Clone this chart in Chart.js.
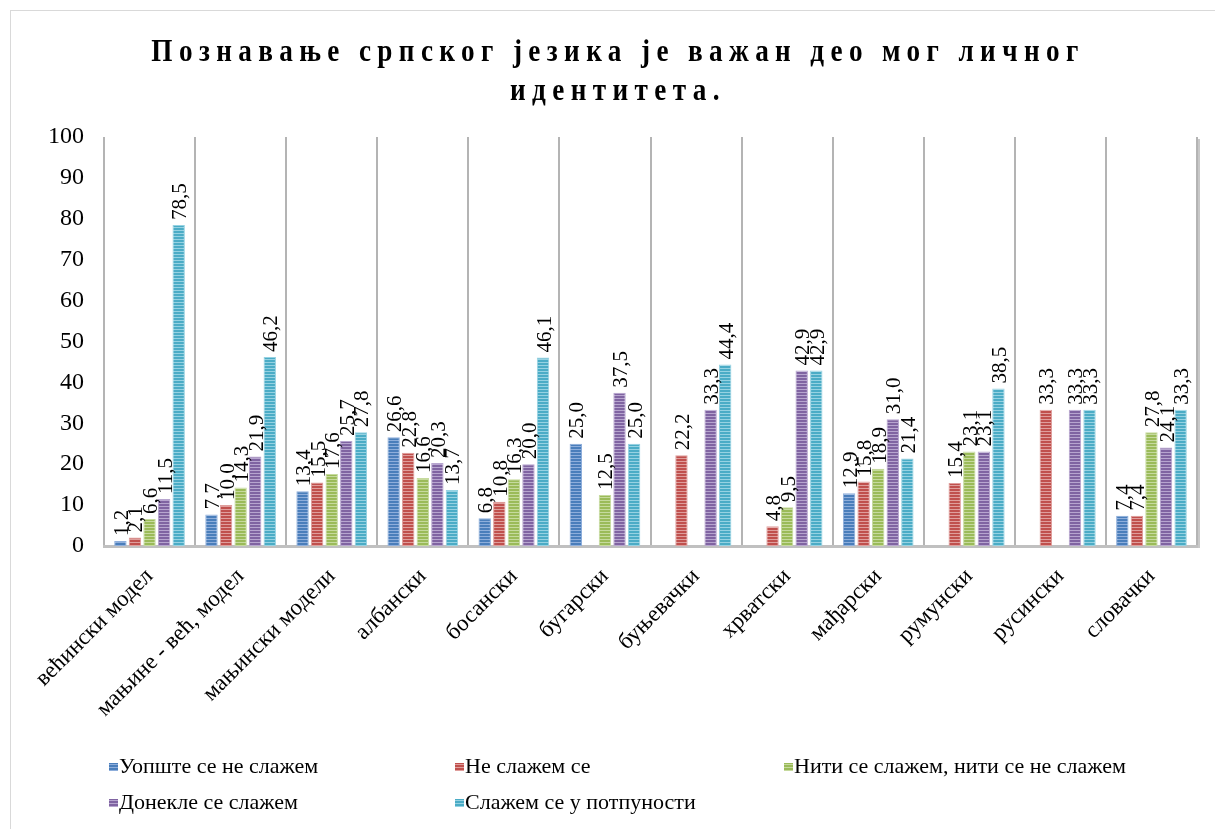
<!DOCTYPE html>
<html>
<head>
<meta charset="utf-8">
<script src="https://cdn.jsdelivr.net/npm/chart.js@4.4.1/dist/chart.umd.min.js"></script>
<style>
  html, body { margin: 0; padding: 0; background: #ffffff; }
  #wrap { width: 1215px; height: 829px; position: relative; }
</style>
</head>
<body>
<div id="wrap"><canvas id="chart" width="1215" height="829"></canvas></div>
<script>
// Survey answers (percent) by group
const titleLines = ['Познавање српског језика је важан део мог личног', 'идентитета.'];
const categories = ['већински модел', 'мањине - већ, модел', 'мањински модели', 'албански', 'босански',
  'бугарски', 'буњевачки', 'хрватски', 'мађарски', 'румунски', 'русински', 'словачки'];
const seriesNames = ['Уопште се не слажем', 'Не слажем се', 'Нити се слажем, нити се не слажем',
  'Донекле се слажем', 'Слажем се у потпуности'];
const uopsteNe = [1.2, 7.7, 13.4, 26.6, 6.8, 25.0, null, null, 12.9, null, null, 7.4];
const neSlazem = [2.1, 10.0, 15.5, 22.8, 10.8, null, 22.2, 4.8, 15.8, 15.4, 33.3, 7.4];
const nitiNiti = [6.6, 14.3, 17.6, 16.6, 16.3, 12.5, null, 9.5, 18.9, 23.1, null, 27.8];
const donekle = [11.5, 21.9, 25.7, 20.3, 20.0, 37.5, 33.3, 42.9, 31.0, 23.1, 33.3, 24.1];
const potpuno = [78.5, 46.2, 27.8, 13.7, 46.1, 25.0, 44.4, 42.9, 21.4, 38.5, 33.3, 33.3];
const yTicks = [0, 10, 20, 30, 40, 50, 60, 70, 80, 90, 100];

const seriesValues = [uopsteNe, neSlazem, nitiNiti, donekle, potpuno];
const baseColors = ['#4a7ebb', '#c0504d', '#9bbb59', '#8064a2', '#4bacc6'];
const lightColors = ['#8eaedb', '#df9e9c', '#c6da9e', '#b7a5cf', '#96d2e2'];

const SERIF = '"Liberation Serif", "Times New Roman", serif';
const canvas = document.getElementById('chart');
const ctx = canvas.getContext('2d');

// horizontal line texture used for the bars and legend keys
function stripes(base, light) {
  const c = document.createElement('canvas');
  c.width = 4; c.height = 3;
  const g = c.getContext('2d');
  g.fillStyle = base; g.fillRect(0, 0, 4, 3);
  g.fillStyle = light; g.fillRect(0, 2, 4, 1);
  return ctx.createPattern(c, 'repeat');
}
const fills = baseColors.map((c, i) => stripes(c, lightColors[i]));

const fmt = v => v.toFixed(1).replace('.', ',');

// outer frame and title
const framePlugin = {
  id: 'frameTitle',
  beforeDraw(chart) {
    const c = chart.ctx;
    c.save();
    c.fillStyle = '#ffffff';
    c.fillRect(0, 0, chart.width, chart.height);
    c.strokeStyle = '#d9d9d9';
    c.lineWidth = 1;
    c.strokeRect(10.5, 10.5, chart.width + 20, chart.height + 20);
    c.restore();
  },
  afterDraw(chart) {
    const c = chart.ctx;
    const cx = 618;
    const baselines = [61, 100];
    const sx = 0.85;
    c.save();
    c.fillStyle = '#000000';
    c.font = 'bold 32px ' + SERIF;
    c.textAlign = 'center';
    c.textBaseline = 'alphabetic';
    c.letterSpacing = '7.5px';
    titleLines.forEach((t, i) => {
      c.save();
      c.translate(cx, baselines[i]);
      c.scale(sx, 1);
      c.fillText(t, 0, 0);
      c.restore();
    });
    c.restore();

    // plot shadow on the right edge
    const a = chart.chartArea;
    c.save();
    c.strokeStyle = '#c8c8c8';
    c.lineWidth = 2;
    c.beginPath();
    c.moveTo(a.right + 2, a.top + 2);
    c.lineTo(a.right + 2, a.bottom + 2);
    c.stroke();
    c.restore();
  }
};

// vertical value labels above each bar
const valueLabels = {
  id: 'valueLabels',
  afterDatasetsDraw(chart) {
    const c = chart.ctx;
    c.save();
    c.fillStyle = '#000000';
    c.font = '21px ' + SERIF;
    c.textAlign = 'left';
    c.textBaseline = 'middle';
    chart.data.datasets.forEach((ds, di) => {
      const meta = chart.getDatasetMeta(di);
      meta.data.forEach((bar, i) => {
        const v = ds.data[i];
        if (v === null || v === undefined) return;
        c.save();
        c.translate(bar.x + 2, bar.y - 5);
        c.rotate(-Math.PI / 2);
        c.fillText(fmt(v), 0, 0);
        c.restore();
      });
    });
    c.restore();
  }
};

// legend laid out in three columns under the axis labels
const gridLegend = {
  id: 'gridLegend',
  afterDraw(chart) {
    const c = chart.ctx;
    const cols = [109, 455, 784];
    const rows = [767, 803];
    c.save();
    c.font = '22px ' + SERIF;
    c.textBaseline = 'middle';
    c.textAlign = 'left';
    chart.data.datasets.forEach((ds, i) => {
      const x = cols[i % 3];
      const y = rows[Math.floor(i / 3)];
      c.fillStyle = ds.backgroundColor;
      c.fillRect(x, y - 4, 9, 8);
      c.fillStyle = '#000000';
      c.fillText(ds.label, x + 10, y);
    });
    c.restore();
  }
};

new Chart(canvas, {
  type: 'bar',
  data: {
    labels: categories,
    datasets: seriesNames.map((name, i) => ({
      label: name,
      data: seriesValues[i],
      backgroundColor: fills[i],
      borderColor: lightColors[i],
      borderWidth: 1,
      categoryPercentage: 0.8,
      barPercentage: 0.85
    }))
  },
  options: {
    responsive: false,
    animation: false,
    events: [],
    layout: { padding: { top: 137, right: 18, bottom: 0, left: 0 } },
    plugins: {
      legend: { display: false },
      title: { display: false },
      tooltip: { enabled: false }
    },
    scales: {
      x: {
        grid: { display: true, offset: true, drawTicks: false, color: '#b4b4b4', lineWidth: 2 },
        border: { display: true, color: '#c0c0c0', width: 3 },
        ticks: {
          autoSkip: false,
          maxRotation: 45,
          minRotation: 45,
          padding: 17,
          color: '#000000',
          font: { family: SERIF, size: 23 }
        },
        afterFit(scale) { scale.height = 283; }
      },
      y: {
        min: 0,
        max: 100,
        grid: { display: false, drawTicks: false },
        border: { display: false },
        afterBuildTicks(scale) { scale.ticks = yTicks.map(v => ({ value: v })); },
        ticks: {
          padding: 20,
          color: '#000000',
          font: { family: SERIF, size: 24 }
        },
        afterFit(scale) { scale.width = 104; }
      }
    }
  },
  plugins: [framePlugin, valueLabels, gridLegend]
});
</script>
</body>
</html>
